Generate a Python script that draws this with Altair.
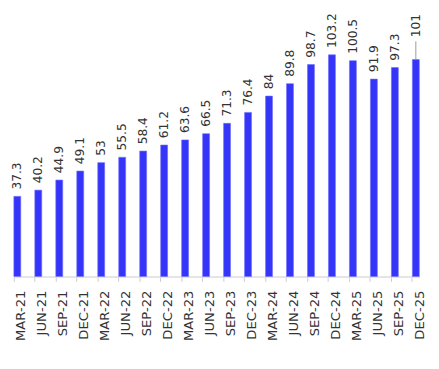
import altair as alt
import pandas as pd

quarters = ["MAR-21", "JUN-21", "SEP-21", "DEC-21", "MAR-22", "JUN-22", "SEP-22", "DEC-22",
            "MAR-23", "JUN-23", "SEP-23", "DEC-23", "MAR-24", "JUN-24", "SEP-24", "DEC-24",
            "MAR-25", "JUN-25", "SEP-25", "DEC-25"]
values = [37.3, 40.2, 44.9, 49.1, 53, 55.5, 58.4, 61.2, 63.6, 66.5, 71.3, 76.4,
          84, 89.8, 98.7, 103.2, 100.5, 91.9, 97.3, 101]
leader_labels = ["DEC-25"]

df = pd.DataFrame({"quarter": quarters, "value": values})
df["leader"] = df["quarter"].isin(leader_labels)

x = alt.X("quarter:N", sort=quarters, title=None,
          scale=alt.Scale(paddingInner=0.67, paddingOuter=0),
          axis=alt.Axis(labelAngle=-90, labelFont="DejaVu Sans", labelFontSize=13.5,
                        labelColor="#333333", domainColor="#dddddd", domainWidth=1.5,
                        tickColor="#cccccc", tickSize=5, bandPosition=0,
                        labelOffset=4, labelPadding=9))
y = alt.Y("value:Q", title=None, scale=alt.Scale(domain=[0, 123], nice=False),
          axis=None)

base = alt.Chart(df)

bars = base.mark_bar(color="#3535FA", stroke="#6b6bff", strokeWidth=0.6).encode(x=x, y=y)

labels = base.transform_filter("!datum.leader").mark_text(
    angle=270, align="left", baseline="middle", dx=7,
    font="DejaVu Sans", fontSize=12.5, color="#333333"
).encode(x=alt.X("quarter:N", sort=quarters, bandPosition=0.5), y="value:Q",
         text=alt.Text("value:Q"))

lead_labels = base.transform_filter("datum.leader").mark_text(
    angle=270, align="left", baseline="middle", dx=23,
    font="DejaVu Sans", fontSize=12.5, color="#333333"
).encode(x=alt.X("quarter:N", sort=quarters, bandPosition=0.5), y="value:Q",
         text=alt.Text("value:Q"))

lead_rule = base.transform_filter("datum.leader").transform_calculate(
    top="datum.value + 8.5"
).mark_rule(color="#999999", strokeWidth=1).encode(
    x=alt.X("quarter:N", sort=quarters, bandPosition=0.5), y="value:Q", y2="top:Q")

chart = alt.layer(bars, lead_rule, labels, lead_labels).properties(
    width=416, height=271, padding={"left": 3, "top": 0, "right": 5, "bottom": 5}
).configure_view(stroke=None)

chart.save("out.html", embed_options={"renderer": "svg", "actions": False})
